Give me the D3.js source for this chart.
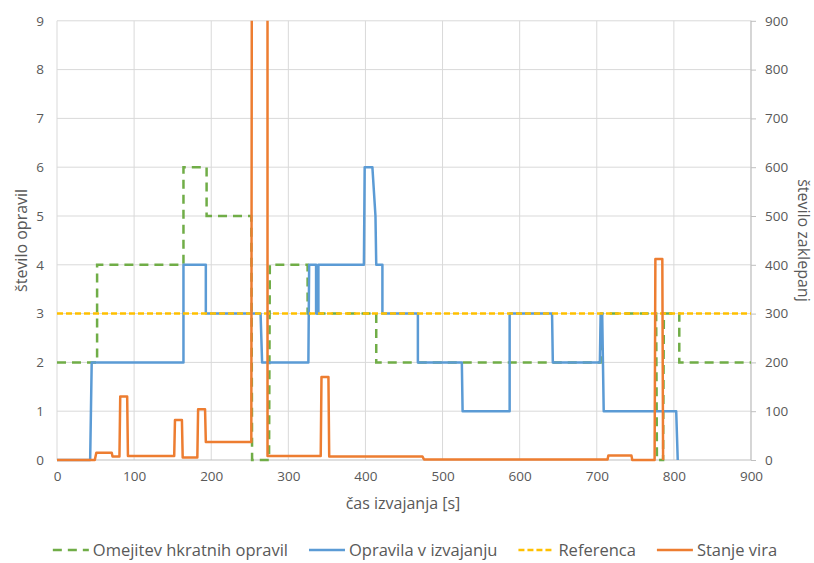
<!DOCTYPE html>
<html>
<head>
<meta charset="utf-8">
<script src="https://cdn.jsdelivr.net/npm/d3@7/dist/d3.min.js"></script>
<style>
  body { margin: 0; background: #fff; }
  svg { display: block; }
  text { font-family: "Open Sans", Lato, sans-serif; fill: #595959; }
</style>
</head>
<body>
<svg id="chart" width="814" height="563"></svg>
<script>
// Step series as [time (s), value] pairs
const omejitev = [[0,2],[52,2],[52,4],[164,4],[164,6],[194,6],[194,5],[252,5],[253,0],[275,0],[276,4],
  [325,4],[325,3],[414,3],[414,2],[705,2],[706,3],[777,3],[778,0],[786,0],[787,3],[807,3],[807,2],[900,2]];
const opravila = [[0,0],[43,0],[45,2],[164,2],[164,4],[193,4],[193,3],[264,3],[266,2],[326,2],[327,4],
  [336,4],[336,3],[339,3],[339,4],[398,4],[399,6],[409,6],[413,5],[414,4],[422,4],[422,3],[468,3],[468,2],
  [525,2],[526,1],[587,1],[587,3],[642,3],[643,2],[704,2],[705,3],[707,3],[709,1],[803,1],[805,0]];
const referenca = [[0,3],[900,3]];
// Resource state, plotted against the secondary axis
const stanjeVira = [[0,0],[49,0],[51,15],[71,15],[72,7],[81,7],[82,130],[91,130],[92,8],[152,8],[153,82],
  [162,82],[163,5],[182,5],[183,104],[192,104],[193,37],[252,37],[253,1500],[273,1500],[273,8],[342,8],
  [343,170],[352,170],[353,7],[474,7],[476,1],[714,1],[715,9],[745,9],[746,0],[775,0],[776,412],[785,412],[786,0]];

const xTicks = [0,100,200,300,400,500,600,700,800,900];
const yTicks = [0,1,2,3,4,5,6,7,8,9];
const y2Ticks = [0,100,200,300,400,500,600,700,800,900];

const legendItems = [
  { name: "Omejitev hkratnih opravil", color: "#70AD47", dash: "9,6" },
  { name: "Opravila v izvajanju", color: "#5B9BD5", dash: null },
  { name: "Referenca", color: "#FFC000", dash: "6,3" },
  { name: "Stanje vira", color: "#ED7D31", dash: null }
];

const svg = d3.select("#chart");
const L = 57, R = 751, T = 20.8, B = 460;

const x = d3.scaleLinear().domain([0, 900]).range([L, R]);
const y = d3.scaleLinear().domain([0, 9]).range([B, T]);
const y2 = d3.scaleLinear().domain([0, 900]).range([B, T]);

// gridlines
const grid = svg.append("g");
grid.selectAll(".hg").data(yTicks.slice(1)).join("line")
  .attr("x1", L).attr("x2", R).attr("y1", d => y(d)).attr("y2", d => y(d))
  .attr("stroke", "#d9d9d9").attr("stroke-width", 1);
grid.selectAll(".vg").data(xTicks).join("line")
  .attr("x1", d => x(d)).attr("x2", d => x(d)).attr("y1", T).attr("y2", B)
  .attr("stroke", "#d9d9d9").attr("stroke-width", 1);

// axes
const xAxis = svg.append("g").attr("transform", `translate(0,${B})`)
  .call(d3.axisBottom(x).tickValues(xTicks).tickSize(0).tickPadding(11));
const yAxis = svg.append("g").attr("transform", `translate(${L},0)`)
  .call(d3.axisLeft(y).tickValues(yTicks).tickSize(0).tickPadding(13));
const y2Axis = svg.append("g").attr("transform", `translate(${R},0)`)
  .call(d3.axisRight(y2).tickValues(y2Ticks).tickSize(5).tickPadding(9));
[xAxis, yAxis, y2Axis].forEach(a => {
  a.selectAll("text").style("font-size", "13.5px").attr("fill", "#595959");
  a.select(".domain").remove();
  a.selectAll(".tick line").attr("stroke", "#bfbfbf");
});
svg.append("line").attr("x1", L).attr("x2", R).attr("y1", B).attr("y2", B)
  .attr("stroke", "#bfbfbf").attr("stroke-width", 1);
svg.append("line").attr("x1", R).attr("x2", R).attr("y1", T).attr("y2", B)
  .attr("stroke", "#bfbfbf").attr("stroke-width", 1);

// axis titles
svg.append("text").attr("x", (L + R) / 2 - 1).attr("y", 509).attr("text-anchor", "middle")
  .style("font-size", "16px").text("čas izvajanja [s]");
svg.append("text").attr("transform", `translate(27,${(T + B) / 2}) rotate(-90)`).attr("text-anchor", "middle")
  .style("font-size", "16px").text("število opravil");
svg.append("text").attr("transform", `translate(798,${(T + B) / 2}) rotate(90)`).attr("text-anchor", "middle")
  .style("font-size", "16px").text("število zaklepanj");

// series
svg.append("clipPath").attr("id", "plot").append("rect")
  .attr("x", L - 2).attr("y", T).attr("width", R - L + 4).attr("height", B - T + 3);
const plot = svg.append("g").attr("clip-path", "url(#plot)");
const line1 = d3.line().x(d => x(d[0])).y(d => y(d[1]));
const line2 = d3.line().x(d => x(d[0])).y(d => y2(d[1]));

plot.append("path").datum(omejitev).attr("d", line1).attr("fill", "none")
  .attr("stroke", legendItems[0].color).attr("stroke-width", 2.5).attr("stroke-dasharray", legendItems[0].dash);
plot.append("path").datum(opravila).attr("d", line1).attr("fill", "none")
  .attr("stroke", legendItems[1].color).attr("stroke-width", 2.5).attr("stroke-linejoin", "round");
plot.append("path").datum(referenca).attr("d", line1).attr("fill", "none")
  .attr("stroke", legendItems[2].color).attr("stroke-width", 2.5).attr("stroke-dasharray", legendItems[2].dash);
plot.append("path").datum(stanjeVira).attr("d", line2).attr("fill", "none")
  .attr("stroke", legendItems[3].color).attr("stroke-width", 2.5).attr("stroke-linejoin", "round");

// legend
const lg = svg.append("g");
const items = lg.selectAll("g").data(legendItems).join("g");
items.append("line").attr("x1", 0).attr("x2", 36).attr("y1", 0).attr("y2", 0)
  .attr("stroke", d => d.color).attr("stroke-width", 2.5).attr("stroke-dasharray", d => d.dash);
items.append("text").attr("x", 40).attr("y", 5.5).style("font-size", "16.5px").text(d => d.name);
const widths = [];
items.each(function () { widths.push(this.getBBox().width); });
const gap = 21;
const total = d3.sum(widths) + gap * (widths.length - 1);
let start = 415 - total / 2;
items.attr("transform", (d, i) => {
  const tx = start;
  start += widths[i] + gap;
  return `translate(${tx},550)`;
});
</script>
</body>
</html>
